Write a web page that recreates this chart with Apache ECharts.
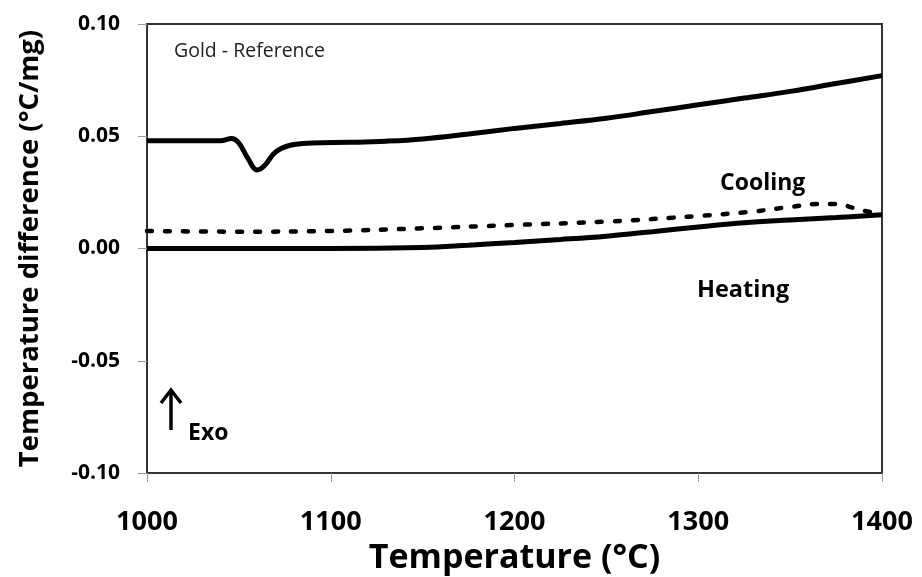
<!DOCTYPE html>
<html>
<head>
<meta charset="utf-8">
<script src="https://cdn.jsdelivr.net/npm/echarts@6/dist/echarts.min.js"></script>
<style>html,body{margin:0;padding:0;background:#fff}#c{width:922px;height:577px}</style>
</head>
<body>
<div id="c"></div>
<script>
// Gold reference curve (upper solid)
const refTemps = [1000, 1020, 1040, 1046, 1050, 1055, 1060, 1064, 1070, 1078, 1090, 1110, 1130, 1150, 1175, 1200, 1225, 1250, 1275, 1300, 1325, 1350, 1375, 1400];
const refVals  = [0.048, 0.048, 0.048, 0.049, 0.047, 0.040, 0.035, 0.037, 0.043, 0.046, 0.047, 0.0473, 0.0478, 0.0488, 0.051, 0.0535, 0.0557, 0.058, 0.061, 0.064, 0.067, 0.070, 0.0735, 0.077];
// Heating curve (lower solid)
const heatTemps = [1000, 1050, 1100, 1150, 1175, 1200, 1225, 1250, 1275, 1300, 1325, 1350, 1375, 1400];
const heatVals  = [0.000, 0.000, 0.000, 0.0005, 0.0015, 0.0027, 0.004, 0.0055, 0.0075, 0.0096, 0.0115, 0.0127, 0.0138, 0.015];
// Cooling curve (dotted)
const coolTemps = [1000, 1050, 1100, 1150, 1200, 1250, 1300, 1330, 1350, 1365, 1375, 1385, 1392, 1400];
const coolVals  = [0.0078, 0.0075, 0.0078, 0.009, 0.0105, 0.012, 0.0145, 0.0165, 0.0185, 0.0198, 0.0198, 0.018, 0.0165, 0.0155];
const xTicks = [1000, 1100, 1200, 1300, 1400];
const yTicks = [-0.10, -0.05, 0.00, 0.05, 0.10];

const pair = (xs, ys) => xs.map((x, i) => [x, ys[i]]);
const font = '"Open Sans", Lato, sans-serif';

const chart = echarts.init(document.getElementById('c'));
chart.setOption({
  animation: false,
  grid: { left: 147, right: 40, top: 24, bottom: 104, show: true, borderColor: '#333', borderWidth: 2,
          containLabel: false, outerBoundsMode: 'none' },
  xAxis: {
    type: 'value', min: xTicks[0], max: xTicks[xTicks.length - 1], interval: 100,
    name: 'Temperature (°C)', nameLocation: 'middle', nameGap: 66,
    nameTextStyle: { fontFamily: font, fontWeight: 'bold', fontSize: 34, color: '#000' },
    axisLine: { onZero: false, lineStyle: { color: '#333', width: 2 } },
    axisTick: { show: true, length: 9, lineStyle: { color: '#999', width: 1 } },
    axisLabel: { fontFamily: font, fontWeight: 'bold', fontSize: 27, color: '#000', margin: 36,
      formatter: v => String(v) },
    splitLine: { show: false }
  },
  yAxis: {
    type: 'value', min: yTicks[0], max: yTicks[yTicks.length - 1], interval: 0.05,
    name: 'Temperature difference (°C/mg)', nameLocation: 'middle', nameGap: 103,
    nameTextStyle: { fontFamily: font, fontWeight: 'bold', fontSize: 27.5, color: '#000' },
    axisLine: { show: true, onZero: false, lineStyle: { color: '#333', width: 2 } },
    axisTick: { show: true, length: 9, lineStyle: { color: '#999', width: 1 } },
    axisLabel: { fontFamily: font, fontWeight: 'bold', fontSize: 21, color: '#000', margin: 27,
      formatter: v => v.toFixed(2) },
    splitLine: { show: false }
  },
  series: [
    { type: 'line', data: pair(refTemps, refVals), smooth: 0.4, symbol: 'none',
      lineStyle: { color: '#000', width: 5 } },
    { type: 'line', data: pair(heatTemps, heatVals), smooth: 0.4, symbol: 'none',
      lineStyle: { color: '#000', width: 5 } },
    { type: 'line', data: pair(coolTemps, coolVals), smooth: 0.4, symbol: 'none',
      lineStyle: { color: '#000', width: 4.5, type: [5, 13], cap: 'round' } }
  ],
  graphic: [
    { type: 'text', left: 174, top: 41, style: { text: 'Gold - Reference', fontFamily: font, fontSize: 19.5, fill: '#222' } },
    { type: 'text', left: 720, top: 172, style: { text: 'Cooling', fontFamily: font, fontWeight: 'bold', fontSize: 23, fill: '#000' } },
    { type: 'text', left: 697, top: 278, style: { text: 'Heating', fontFamily: font, fontWeight: 'bold', fontSize: 23.5, fill: '#000' } },
    { type: 'text', left: 188, top: 422, style: { text: 'Exo', fontFamily: font, fontWeight: 'bold', fontSize: 23, fill: '#000' } },
    { type: 'line', shape: { x1: 171, y1: 430, x2: 171, y2: 392 }, style: { stroke: '#000', lineWidth: 3.5 } },
    { type: 'polyline', shape: { points: [[161, 403], [171, 390], [181, 403]] }, style: { stroke: '#000', lineWidth: 3.5, fill: null } }
  ]
});
</script>
</body>
</html>
